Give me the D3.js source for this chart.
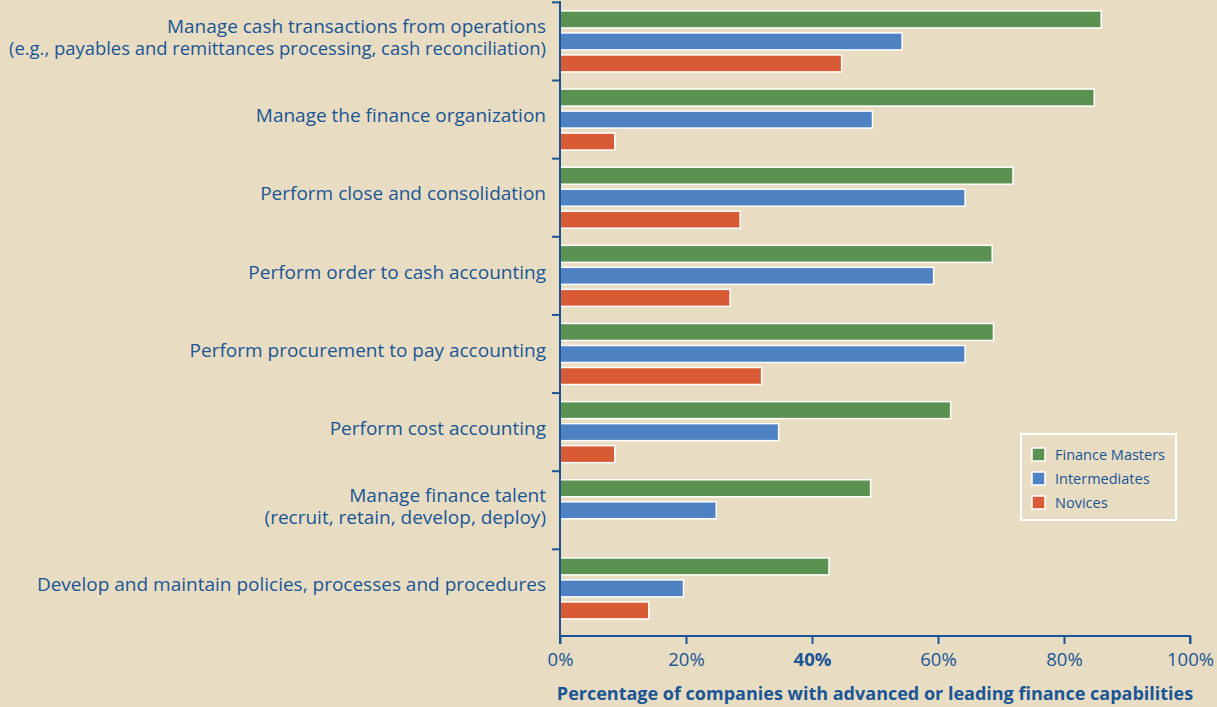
<!DOCTYPE html>
<html lang="en">
<head>
  <meta charset="UTF-8">
  <title>Finance capabilities by maturity group</title>
  <script src="https://d3js.org/d3.v7.min.js"></script>
  <style>
    body {
      margin: 0;
      background-color: #e8ddc2;
      font-family: "Open Sans", sans-serif;
    }

    svg {
      display: block;
    }

    .label text,
    .tick text,
    .legend text {
      fill: #1a5596;
    }

    .bar {
      stroke: #fff;
      stroke-width: 1.5px;
    }
  </style>
</head>

<body>
  <script>
    // categories, top to bottom (\n = line break)
    const categories = [
      "Manage cash transactions from operations\n(e.g., payables and remittances processing, cash reconciliation)",
      "Manage the finance organization",
      "Perform close and consolidation",
      "Perform order to cash accounting",
      "Perform procurement to pay accounting",
      "Perform cost accounting",
      "Manage finance talent\n(recruit, retain, develop, deploy)",
      "Develop and maintain policies, processes and procedures"
    ];

    const seriesNames = ["Finance Masters", "Intermediates", "Novices"];
    const seriesColors = ["#5b9151", "#4e82c3", "#d95b36"];

    // percent of companies, one array per series
    const financeMasters = [85.9, 84.8, 71.9, 68.6, 68.8, 62.0, 49.3, 42.7];
    const intermediates = [54.3, 49.6, 64.3, 59.3, 64.3, 34.7, 24.8, 19.6];
    const novices = [44.7, 8.7, 28.6, 27.0, 32.0, 8.7, null, 14.1];

    const xTicks = [0, 20, 40, 60, 80, 100];
    const xTitle = "Percentage of companies with advanced or leading finance capabilities";

    const width = 1217;
    const height = 707;
    const margin = { top: 0, right: 27, bottom: 71, left: 560 };
    const blue = "#1a5596";

    const svg = d3.select("body").append("svg")
      .attr("width", width)
      .attr("height", height);

    const x = d3.scaleLinear()
      .domain([0, 100])
      .range([margin.left, width - margin.right]);

    const y = d3.scaleBand()
      .domain(categories)
      .range([margin.top, height - margin.bottom])
      .paddingInner(0.219)
      .paddingOuter(0.179)
      .align(0.39);

    const ySub = d3.scaleBand()
      .domain(seriesNames)
      .range([0, y.bandwidth()])
      .paddingInner(0.227);

    const seriesValues = [financeMasters, intermediates, novices];

    const rows = [];
    categories.forEach((c, i) => {
      seriesNames.forEach((s, j) => {
        const v = seriesValues[j][i];
        if (v != null) rows.push({ category: c, series: s, value: v, color: seriesColors[j] });
      });
    });

    // bars
    svg.append("g")
      .selectAll("rect")
      .data(rows)
      .join("rect")
      .attr("class", "bar")
      .attr("x", x(0))
      .attr("y", d => y(d.category) + ySub(d.series))
      .attr("width", d => x(d.value) - x(0))
      .attr("height", ySub.bandwidth())
      .attr("fill", d => d.color);

    // y axis: line and ticks between groups
    const yAxisG = svg.append("g");
    yAxisG.append("line")
      .attr("x1", x(0)).attr("x2", x(0))
      .attr("y1", margin.top + 1).attr("y2", height - margin.bottom)
      .attr("stroke", blue)
      .attr("stroke-width", 2);

    const yStep = y.step();
    const yBounds = categories.map(c => y(c) - yStep * y.paddingInner() / 2);
    yAxisG.selectAll(".ytick")
      .data(yBounds)
      .join("line")
      .attr("class", "ytick")
      .attr("x1", x(0) - 8).attr("x2", x(0))
      .attr("y1", d => d).attr("y2", d => d)
      .attr("stroke", blue)
      .attr("stroke-width", 2);

    // category labels
    const labelX = x(0) - 14;
    const maxLabelWidth = labelX - 9;

    const labels = svg.append("g").attr("class", "label")
      .selectAll("text")
      .data(categories)
      .join("text")
      .attr("x", labelX)
      .attr("y", d => y(d) + y.bandwidth() / 2 - 4)
      .attr("text-anchor", "end")
      .style("font-size", "19px");

    labels.each(function (d) {
      const lines = d.split("\n");
      const t = d3.select(this);
      lines.forEach((line, k) => {
        const span = t.append("tspan")
          .attr("x", labelX)
          .attr("dy", k === 0 ? `${0.35 - (lines.length - 1) * 0.58}em` : "1.16em")
          .text(line);
        // squeeze a line that is too long for the left margin
        if (span.node().getComputedTextLength() > maxLabelWidth) {
          span.attr("textLength", maxLabelWidth).attr("lengthAdjust", "spacingAndGlyphs");
        }
      });
    });

    // x axis
    const xAxis = d3.axisBottom(x)
      .tickValues(xTicks)
      .tickSize(8)
      .tickFormat(d => d + "%");

    const xAxisG = svg.append("g")
      .attr("transform", `translate(0,${height - margin.bottom})`)
      .call(xAxis);

    xAxisG.select(".domain")
      .attr("stroke", blue)
      .attr("stroke-width", 2)
      .attr("d", `M${x(0)},8V0H${x(100)}V8`);
    xAxisG.selectAll(".tick line")
      .attr("stroke", blue)
      .attr("stroke-width", 2);
    xAxisG.selectAll(".tick text")
      .attr("dy", "1.05em")
      .style("font-size", "18.5px")
      .style("font-family", "'Open Sans', sans-serif")
      .style("font-weight", d => d === 40 ? "bold" : "normal");

    svg.append("text")
      .attr("x", (x(0) + x(100)) / 2)
      .attr("y", height - 7)
      .attr("text-anchor", "middle")
      .style("font-size", "18px")
      .style("font-weight", "bold")
      .attr("fill", blue)
      .text(xTitle);

    // legend
    const legend = svg.append("g")
      .attr("class", "legend")
      .attr("transform", "translate(1021,434)");

    legend.append("rect")
      .attr("width", 155)
      .attr("height", 86)
      .attr("fill", "none")
      .attr("stroke", "#fff")
      .attr("stroke-width", 2);

    const item = legend.selectAll(".item")
      .data(seriesNames)
      .join("g")
      .attr("class", "item")
      .attr("transform", (d, i) => `translate(11,${14 + i * 24})`);

    item.append("rect")
      .attr("width", 13)
      .attr("height", 13)
      .attr("fill", (d, i) => seriesColors[i])
      .attr("stroke", "#fff")
      .attr("stroke-width", 1.5);

    item.append("text")
      .attr("x", 23)
      .attr("y", 7)
      .attr("dy", "0.35em")
      .style("font-size", "14.5px")
      .text(d => d);
  </script>
</body>
</html>
